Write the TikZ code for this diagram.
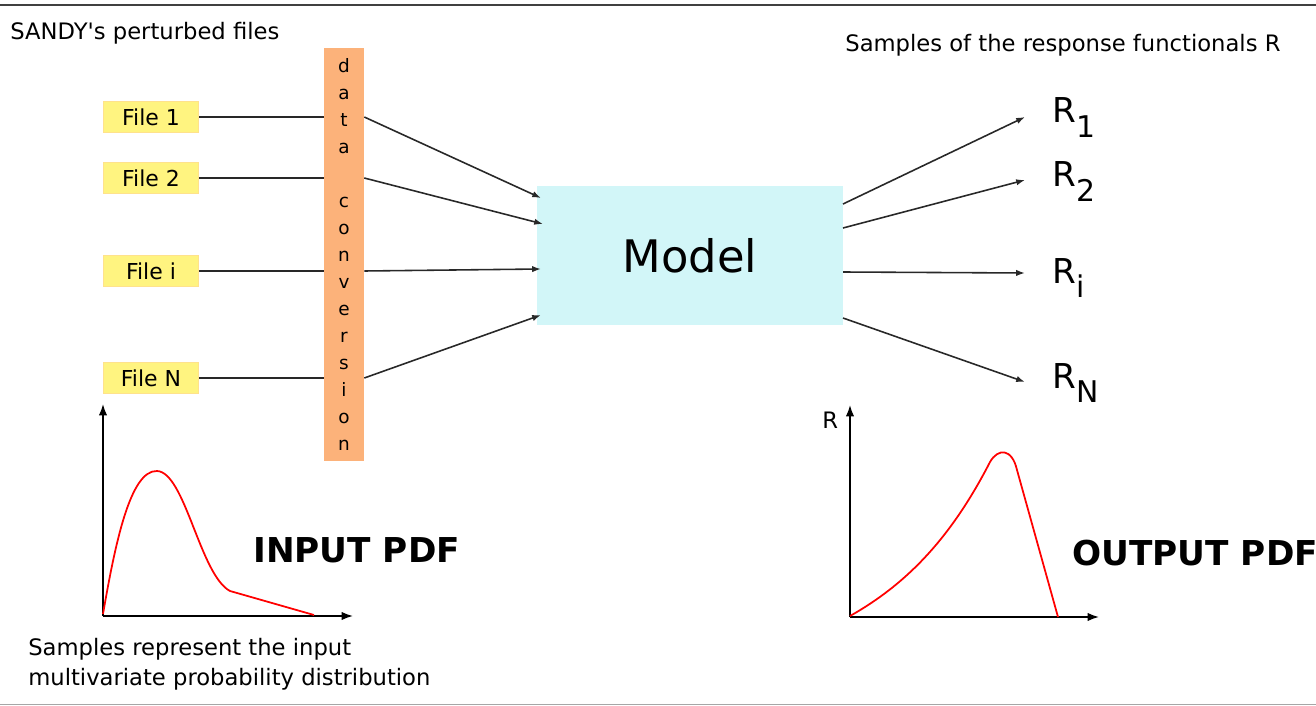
\documentclass[tikz,border=0pt]{standalone}
\usepackage{fontspec}
\setmainfont{DejaVu Sans}
\usetikzlibrary{arrows.meta}
\definecolor{fileyellow}{RGB}{255,244,128}
\definecolor{fileedge}{RGB}{255,226,140}
\definecolor{convorange}{RGB}{252,178,122}
\definecolor{modelcyan}{RGB}{210,246,248}
\definecolor{linegray}{RGB}{40,40,40}
\newcommand{\fs}[1]{\fontsize{#1}{1.2\dimexpr#1pt\relax}\selectfont}
\newcommand{\Rlab}[1]{R\raisebox{-8pt}{\fontsize{17}{17}\selectfont #1}}
\tikzset{
  filebox/.style={draw=fileedge, line width=0.8pt, fill=fileyellow,
    minimum width=54pt, minimum height=17.5pt, inner sep=0pt, font=\fs{12.5}},
  convbar/.style={fill=convorange, minimum width=22.7pt, minimum height=235pt,
    inner sep=0pt, align=center, font=\fontsize{10.5}{15.4}\selectfont},
  modelbox/.style={fill=modelcyan, minimum width=174pt, minimum height=79pt,
    inner sep=0pt, font=\fs{25.5}},
  link/.style={draw=linegray, line width=0.9pt},
  flow/.style={link, -{Latex[length=5pt,width=3.6pt]}},
  axis/.style={draw=black, line width=0.9pt, -{Latex[length=6.5pt,width=4.8pt]}},
  pdfcurve/.style={draw=red, line width=1pt},
  note/.style={font=\fs{12.9}, inner sep=0pt},
  rlabel/.style={font=\fs{19.5}, inner sep=0pt, anchor=base west},
  bigtitle/.style={font=\fs{19.5}\bfseries, inner sep=0pt, anchor=base west}
}
\begin{document}
\begin{tikzpicture}[x=0.02cm, y=-0.02cm]
\useasboundingbox (0,0) rectangle (1316,706);

% frame rules
\draw[draw=black!75, line width=1.3pt] (0,5) -- (1316,5);
\draw[draw=black!35, line width=0.8pt] (0,704.5) -- (1316,704.5);

% headings
\node[note, anchor=base west] (hin) at (10,40) {SANDY\textquotesingle s perturbed files};
\node[note, anchor=base west] (hout) at (845,52) {Samples of the response functionals R};

% perturbed input files
\node[filebox] (f1) at (151,117) {File 1};
\node[filebox] (f2) at (151,178) {File 2};
\node[filebox] (fi) at (151,271) {File i};
\node[filebox] (fN) at (151,378) {File N};

% data conversion bar
\node[convbar] (conv) at (344,254.5)
  {d\\a\\t\\a\\\mbox{}\\c\\o\\n\\v\\e\\r\\s\\i\\o\\n};

% model
\node[modelbox] (model) at (690,255.5) {Model};

% files into the conversion bar
\draw[link] (f1.east) -- (f1.east -| conv.west);
\draw[link] (f2.east) -- (f2.east -| conv.west);
\draw[link] (fi.east) -- (fi.east -| conv.west);
\draw[link] (fN.east) -- (fN.east -| conv.west);

% converted data into the model
\coordinate (m1) at (541,198);
\coordinate (m2) at (543,224);
\coordinate (m3) at (541,269);
\coordinate (m4) at (541,315);
\draw[flow] (conv.east |- f1.east) -- (m1);
\draw[flow] (conv.east |- f2.east) -- (m2);
\draw[flow] (conv.east |- fi.east) -- (m3);
\draw[flow] (conv.east |- fN.east) -- (m4);

% response samples
\node[rlabel] (r1) at (1052,123) {\Rlab{1}};
\node[rlabel] (r2) at (1052,187) {\Rlab{2}};
\node[rlabel] (ri) at (1052,283) {\Rlab{i}};
\node[rlabel] (rN) at (1052,388) {\Rlab{N}};
\coordinate (t1) at (1025,117);
\coordinate (t2) at (1025,180);
\coordinate (ti) at (1025,273);
\coordinate (tN) at (1025,382);
\coordinate (o1) at (843,204);
\coordinate (o2) at (843,228);
\coordinate (oi) at (843,272);
\coordinate (oN) at (843,318);
\draw[flow] (o1) -- (t1);
\draw[flow] (o2) -- (t2);
\draw[flow] (oi) -- (ti);
\draw[flow] (oN) -- (tN);

% input distribution
\coordinate (ia) at (103,616);
\coordinate (iy) at (103,404);
\coordinate (ix) at (353,616);
\draw[axis] (ia) -- (iy);
\draw[axis] (ia) -- (ix);
\draw[pdfcurve] (103,614) .. controls (115,545) and (130,470) .. (157,471)
  .. controls (185,472) and (200,575) .. (230,591) -- (314,615);
\node[bigtitle] (inpdf) at (253,562) {INPUT PDF};
\node[note, anchor=base west] (incap) at (28,655)
  {Samples represent the input};
\node[note, anchor=base west] (incap2) at (28,685)
  {multivariate probability distribution};

% output distribution
\coordinate (oa) at (850,617);
\coordinate (oy) at (850,405);
\coordinate (ox) at (1099,617);
\draw[axis] (oa) -- (oy);
\draw[axis] (oa) -- (ox);
\node[note, anchor=base west] (raxis) at (822,428) {R};
\draw[pdfcurve] (850,616) .. controls (905,585) and (950,540) .. (990,462)
  .. controls (998,448) and (1012,448) .. (1017,470) -- (1058,617);
\node[bigtitle] (outpdf) at (1072,565) {OUTPUT PDF};
\end{tikzpicture}
\end{document}
